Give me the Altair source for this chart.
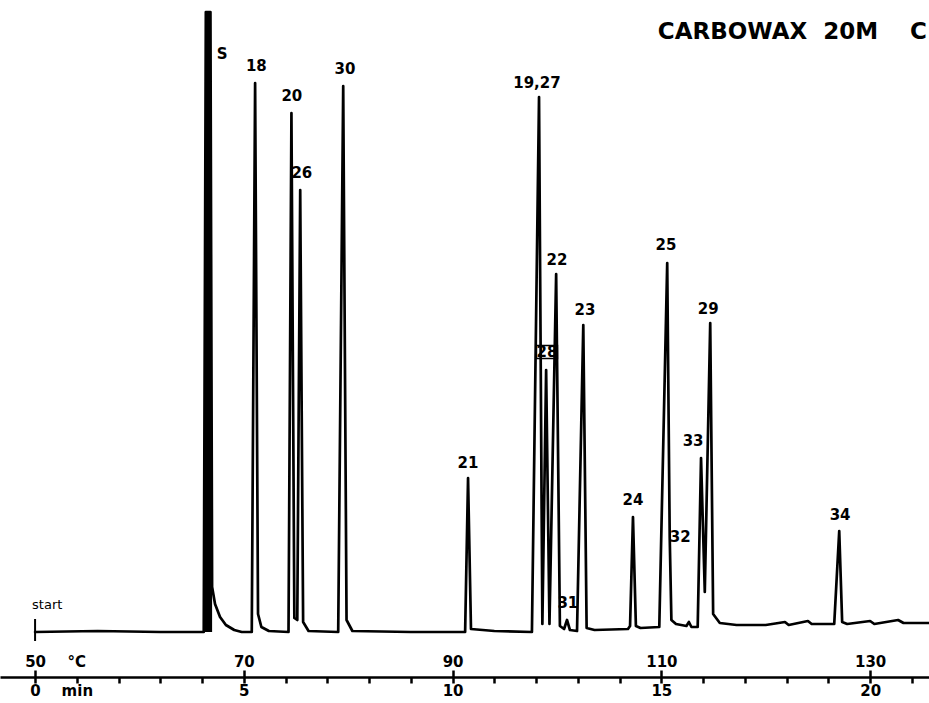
import altair as alt
import pandas as pd

# ---------------- data ----------------
# time axis (min) and temperature programme labels
minute_ticks = list(range(0, 22))
min_label_pos = [0, 1, 5, 10, 15, 20]
min_label_txt = ["0", "min", "5", "10", "15", "20"]
temp_label_pos = [0, 5, 10, 15, 20]
temp_label_txt = ["50", "70", "90", "110", "130"]
temp_unit_pos = [1]
temp_unit_txt = ["\u00b0C"]

# detector trace: retention time (min) and signal above baseline
trace_time = [0.00, 1.50, 3.00, 4.00, 4.04, 4.09, 4.20, 4.24, 4.31, 4.43, 4.57, 4.77, 4.95,
              5.19, 5.27, 5.34, 5.42, 5.60,
              6.07, 6.14, 6.21, 6.28, 6.35, 6.42, 6.55,
              7.26, 7.38, 7.46, 7.60, 9.00,
              10.30, 10.37, 10.44, 11.00,
              11.90, 12.07, 12.15, 12.24, 12.32, 12.48, 12.57, 12.67, 12.74, 12.81, 12.98,
              13.13, 13.21, 13.40,
              14.20, 14.25, 14.32, 14.39, 14.50,
              14.95, 15.14, 15.20, 15.24, 15.35, 15.60, 15.66, 15.72,
              15.87, 15.95, 16.04, 16.17, 16.24, 16.40, 16.80, 17.50,
              17.96, 18.05, 18.51, 18.60, 19.14, 19.26, 19.33, 19.45,
              20.00, 20.10, 20.67, 20.80, 21.41]
trace_signal = [0, 1, 0, 0, 0, 620, 620, 45, 28, 15, 7, 2, 0,
                0, 549, 18, 5, 1,
                0, 519, 14, 12, 442, 10, 1,
                0, 546, 12, 1, 0,
                0, 154, 3, 1,
                0, 535, 8, 262, 8, 358, 6, 3, 12, 2, 1,
                307, 4, 2,
                3, 6, 115, 6, 4,
                5, 369, 95, 12, 8, 6, 10, 5,
                5, 174, 40, 309, 18, 9, 7, 7,
                10, 7, 11, 8, 8, 101, 10, 8,
                11, 8, 12, 9, 9]

# peak labels and where they are printed
label_text = ["S", "18", "20", "26", "30", "21", "19,27", "28", "22", "31",
              "23", "24", "25", "32", "33", "29", "34"]
label_time = [4.48, 5.30, 6.15, 6.39, 7.42, 10.37, 12.02, 12.26, 12.50, 12.76,
              13.17, 14.32, 15.11, 15.45, 15.76, 16.12, 19.28]
label_signal = [578, 566, 536, 459, 563, 169, 549, 280, 372, 29,
                322, 132, 387, 95, 191, 323, 117]
boxed_label = ["28"]

start_time = [0]
title_text = "CARBOWAX\u00a0\u00a020M\u00a0\u00a0\u00a0\u00a0C"

# ---------------- chart ----------------
trace = pd.DataFrame({"t": trace_time, "v": trace_signal})
labels = pd.DataFrame({"name": label_text, "t": label_time, "v": label_signal})
boxes = labels[labels["name"].isin(boxed_label)]
start = pd.DataFrame({"t": start_time, "txt": ["start"]})
unit = pd.DataFrame({"t": temp_unit_pos, "txt": temp_unit_txt})

FONT = "DejaVu Sans"
W, H = 929, 703
xs = alt.Scale(domain=[-0.84, 21.41], nice=False, zero=False)
ys = alt.Scale(domain=[-71, 632], nice=False, zero=False)


def expr_from(pos, txt):
    e = "''"
    for p, s in reversed(list(zip(pos, txt))):
        e = f"datum.value == {p} ? '{s}' : ({e})"
    return e


bottom_axis = alt.Axis(orient="bottom", offset=-26, values=minute_ticks, tickSize=6,
                       tickWidth=2.5, tickColor="black", domainColor="black", domainWidth=2.5,
                       labelExpr=expr_from(min_label_pos, min_label_txt), labelFont=FONT,
                       labelFontSize=15, labelFontWeight="bold", labelColor="black",
                       labelPadding=0, labelOverlap=False, labelFlush=False, labelBound=False,
                       grid=False, title=None)
top_axis = alt.Axis(orient="top", offset=-677, values=temp_label_pos, tickSize=7,
                    tickWidth=2.5, tickColor="black", domain=False,
                    labelExpr=expr_from(temp_label_pos, temp_label_txt), labelFont=FONT,
                    labelFontSize=15, labelFontWeight="bold", labelColor="black",
                    labelPadding=1, labelOverlap=False, labelFlush=False, labelBound=False,
                    grid=False, title=None)

X = lambda axis=None: alt.X("t:Q", scale=xs, axis=axis)
Y = alt.Y("v:Q", scale=ys, axis=None)

s_body = alt.Chart(trace).transform_filter("datum.t >= 4.0 && datum.t <= 4.25").mark_area(
    color="black", interpolate="linear").encode(x=X(), y=Y)

line = alt.Chart(trace).mark_line(color="black", strokeWidth=2.7, strokeJoin="round",
                                  strokeCap="round").encode(x=X(bottom_axis), y=Y)

text = alt.Chart(labels).mark_text(font=FONT, fontSize=15, fontWeight="bold", color="black",
                                   align="center", baseline="middle").encode(
    x=X(), y=Y, text="name:N")

box = alt.Chart(boxes).mark_point(shape="M -1 -0.62 L 1 -0.62 L 1 0.62 L -1 0.62 Z",
                                  size=440, filled=False, color="black", strokeWidth=1.5,
                                  opacity=1).encode(x=X(), y=Y)

start_rule = alt.Chart(start).mark_rule(color="black", strokeWidth=2).encode(
    x=X(top_axis), y=alt.value(619), y2=alt.value(641))
start_text = alt.Chart(start).mark_text(font=FONT, fontSize=13, color="black", align="left",
                                        baseline="middle", dx=-3).encode(
    x=X(), y=alt.value(605), text="txt:N")

unit_text = alt.Chart(unit).mark_text(font=FONT, fontSize=15, fontWeight="bold", color="black",
                                      align="center", baseline="middle").encode(
    x=X(), y=alt.value(662), text="txt:N")

title = alt.Chart(pd.DataFrame({"txt": [title_text]})).mark_text(
    font=FONT, fontSize=23, fontWeight="bold", color="black", align="right",
    baseline="alphabetic").encode(x=alt.value(927), y=alt.value(39), text="txt:N")

chart = alt.layer(s_body, line, box, text, start_rule, start_text, unit_text, title).resolve_scale(
    x="independent").properties(
    width=W, height=H, padding=0, autosize=alt.AutoSizeParams(type="none"),
    background="white").configure_view(stroke=None)

chart.save("out.html", embed_options={"renderer": "svg", "actions": False})
